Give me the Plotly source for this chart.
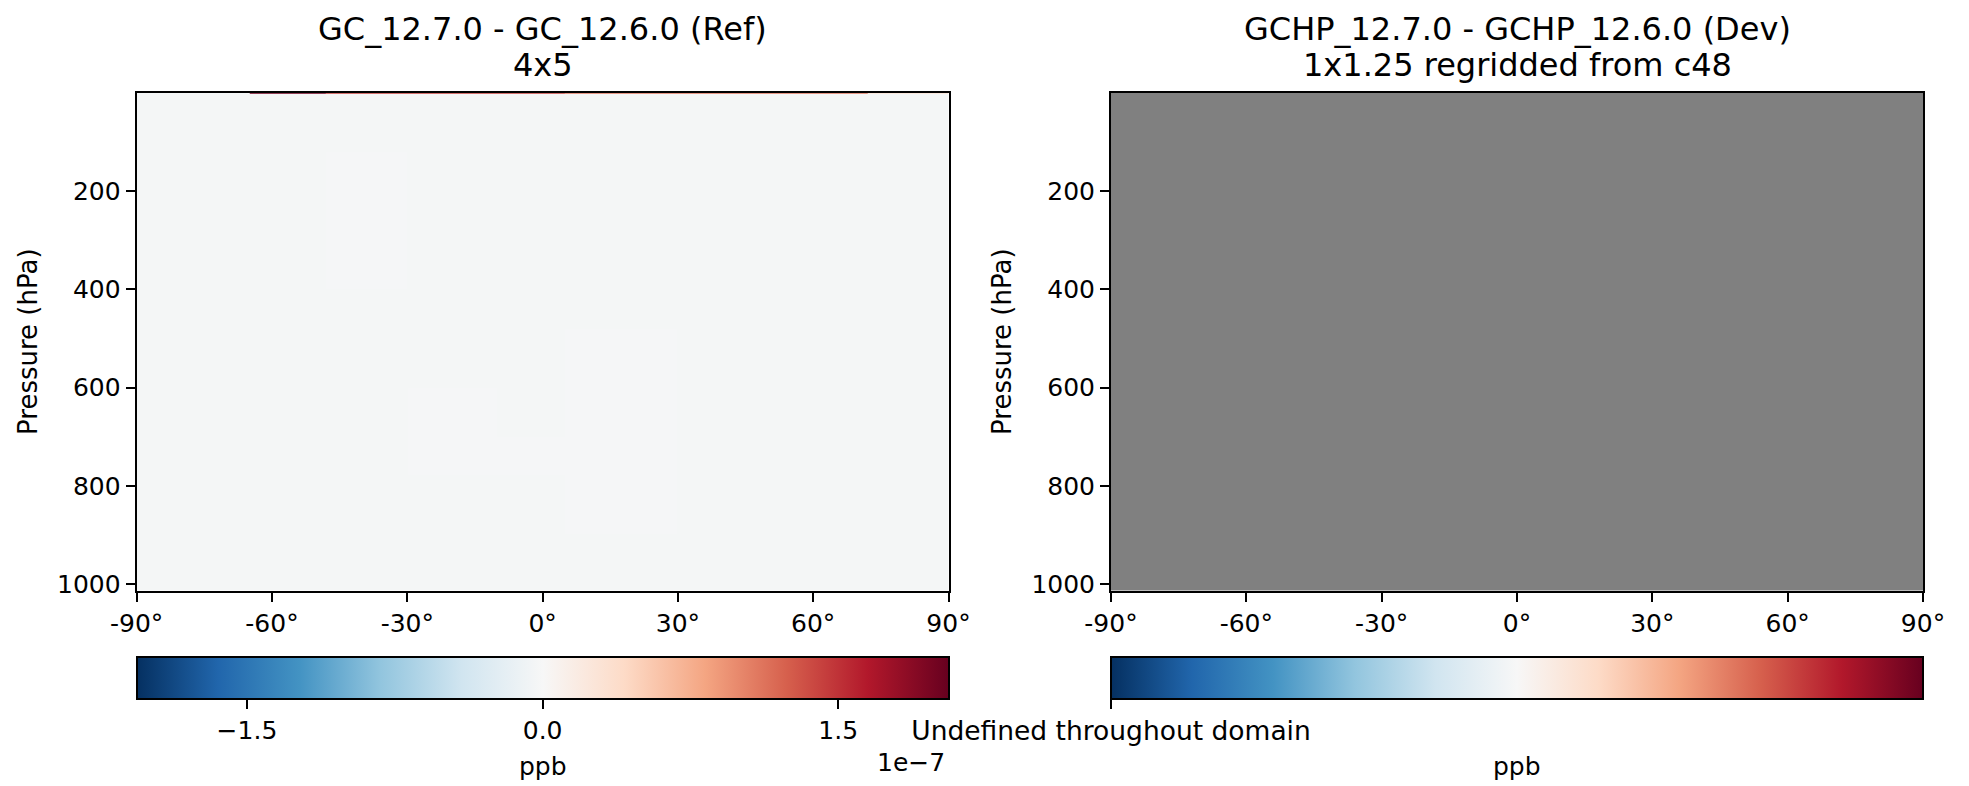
import numpy as np
import plotly.graph_objects as go

W, H = 1969, 786

# ---------------- data ----------------
# Latitude bin edges (deg) and pressure level edges (hPa) of the zonal-mean grid
lat_edges = [-90, -65, -48, -30, -10, 5, 30, 50, 72, 90]
pres_edges = [0.01, 3, 120, 250, 400, 480, 600, 700, 780, 900, 1013]

# Ref difference (GC_12.7.0 - GC_12.6.0), units of 1e-9 ppb; rows = pressure bands (top -> bottom)
ref_diff_e9 = [
    [-3, 200, 140, 140, 140, 110, 110, 110, 30],
    [-3, -3, -3, -3, -3, -3, -3, -3, -3],
    [-3, -3, -2.5, -3, -3, -3, -3, -3, -3],
    [-3, -3, -2.5, -3, -3, -3, -3, -3, -3],
    [-3, -3, -3, -3, -3, -3, -3, -3, -3],
    [-3, -3, -3, -3, -3, -2.5, -3, -3, -3],
    [-3, -3, -3, -2.5, -3, -2.5, -3, -3, -3],
    [-3, -3, -3, -2.5, -2.5, -2.5, -3, -3, -3],
    [-3, -3, -3, -3, -3, -2.5, -3, -3, -3],
    [-3, -3, -3, -3, -3, -3, -3, -3, -3],
]
ref_range = 2.06e-7           # symmetric colour range of the Ref panel
ref_ticks = [-1.5e-7, 0.0, 1.5e-7]
ref_ticktext = ["\u22121.5", "0.0", "1.5"]

# Dev difference: undefined (NaN) throughout domain
dev_diff = [[np.nan] * (len(lat_edges) - 1) for _ in range(len(pres_edges) - 1)]

lat_ticks = [-90, -60, -30, 0, 30, 60, 90]
lat_ticktext = [f"{v}\u00b0" for v in lat_ticks]
pres_ticks = [200, 400, 600, 800, 1000]

titles = [("GC_12.7.0 - GC_12.6.0 (Ref)", "4x5"),
          ("GCHP_12.7.0 - GCHP_12.6.0 (Dev)", "1x1.25 regridded from c48")]

# ---------------- styling ----------------
FONT = "DejaVu Sans"
rdbu = [(5, 48, 97), (33, 102, 172), (67, 147, 195), (146, 197, 222), (209, 229, 240),
        (247, 247, 247), (253, 219, 199), (244, 165, 130), (214, 96, 77), (178, 24, 43),
        (103, 0, 31)]
RdBu_r = [[i / 10, f"rgb{c}"] for i, c in enumerate(rdbu)]

OFF = 8  # page body margin of the browser

def px_x(p):
    return (p - OFF) / W

def px_y(p):
    return 1 - (p - OFF) / H

ax1 = (136.7, 948.5)
ax2 = (1111.0, 1923.0)
ax_top, ax_bot = 92.7, 590.7
cb_top, cb_th = 657.0, 42

tickfont = dict(family=FONT, size=25, color="black")

def cbar(cx, length, tickvals, ticktext, fsize=25):
    return dict(
        orientation="h", x=px_x(cx), xanchor="center", xref="paper",
        y=px_y(cb_top), yanchor="top", yref="paper",
        len=length / W, lenmode="fraction",
        thickness=cb_th, thicknessmode="pixels", xpad=0, ypad=0,
        outlinewidth=2, outlinecolor="black",
        tickmode="array", tickvals=tickvals, ticktext=ticktext,
        ticks="outside", ticklen=9, tickwidth=2, tickcolor="black",
        tickfont=dict(family=FONT, size=fsize, color="black"),
    )

fig = go.Figure()

ref_z = np.array(ref_diff_e9, dtype=float) * 1e-9
fig.add_trace(go.Heatmap(
    x=lat_edges, y=pres_edges, z=ref_z, xaxis="x", yaxis="y",
    colorscale=RdBu_r, zmin=-ref_range, zmax=ref_range, hoverinfo="skip",
    colorbar=cbar((ax1[0] + ax1[1]) / 2, ax1[1] - ax1[0], ref_ticks, ref_ticktext),
))

# Dev panel: undefined cells are painted grey
dev_arr = np.array(dev_diff, dtype=float)
mask = np.where(np.isnan(dev_arr), 0.0, np.nan)
fig.add_trace(go.Heatmap(
    x=lat_edges, y=pres_edges, z=mask, xaxis="x2", yaxis="y2",
    colorscale=[[0, "#808080"], [1, "#808080"]], showscale=False, hoverinfo="skip",
))
# Invisible carrier of the Dev colour bar (no defined data to colour)
fig.add_trace(go.Scatter(
    x=[lat_edges[0]], y=[pres_edges[-1]], xaxis="x2", yaxis="y2", mode="markers",
    marker=dict(color=[0.0], cmin=0, cmax=1, colorscale=RdBu_r, size=1, opacity=0,
                showscale=True,
                colorbar=cbar((ax2[0] + ax2[1]) / 2, ax2[1] - ax2[0], [0.0],
                              ["Undefined throughout domain"], fsize=26.5)),
    hoverinfo="skip", showlegend=False,
))

xcommon = dict(range=[-90, 90], tickmode="array", tickvals=lat_ticks, ticktext=lat_ticktext,
               ticks="outside", ticklen=9, tickwidth=2, tickcolor="black",
               showline=True, linewidth=2, linecolor="black", mirror=True,
               showgrid=False, zeroline=False, tickfont=tickfont, automargin=False)
ycommon = dict(range=[1013, 0.01], tickmode="array", tickvals=pres_ticks,
               ticks="outside", ticklen=9, tickwidth=2, tickcolor="black",
               showline=True, linewidth=2, linecolor="black", mirror=True,
               showgrid=False, zeroline=False, tickfont=tickfont, automargin=False,
               title=dict(text="Pressure (hPa)", font=dict(family=FONT, size=26, color="black"),
                          standoff=12))

fig.update_layout(
    template="none",
    width=W, height=H, margin=dict(l=0, r=0, t=0, b=0, pad=0, autoexpand=False),
    paper_bgcolor="white", plot_bgcolor="white",
    font=dict(family=FONT, color="black"),
    xaxis=dict(domain=[px_x(ax1[0]), px_x(ax1[1])], anchor="y", **xcommon),
    yaxis=dict(domain=[px_y(ax_bot), px_y(ax_top)], anchor="x", **ycommon),
    xaxis2=dict(domain=[px_x(ax2[0]), px_x(ax2[1])], anchor="y2", **xcommon),
    yaxis2=dict(domain=[px_y(ax_bot), px_y(ax_top)], anchor="x2", **ycommon),
    showlegend=False,
)

annots = []
for (t1, t2), ax in zip(titles, [ax1, ax2]):
    cx = px_x((ax[0] + ax[1]) / 2)
    annots.append(dict(text=t1, x=cx, y=px_y(29.5), xref="paper", yref="paper",
                       xanchor="center", yanchor="middle", showarrow=False,
                       font=dict(family=FONT, size=32, color="black")))
    annots.append(dict(text=t2, x=cx, y=px_y(65), xref="paper", yref="paper",
                       xanchor="center", yanchor="middle", showarrow=False,
                       font=dict(family=FONT, size=32, color="black")))
    annots.append(dict(text="ppb", x=cx, y=px_y(766), xref="paper", yref="paper",
                       xanchor="center", yanchor="middle", showarrow=False,
                       font=dict(family=FONT, size=25, color="black")))
annots.append(dict(text="1e\u22127", x=px_x(947), y=px_y(762), xref="paper", yref="paper",
                   xanchor="right", yanchor="middle", showarrow=False,
                   font=dict(family=FONT, size=25, color="black")))
fig.update_layout(annotations=annots)

fig.write_html("out.html")
